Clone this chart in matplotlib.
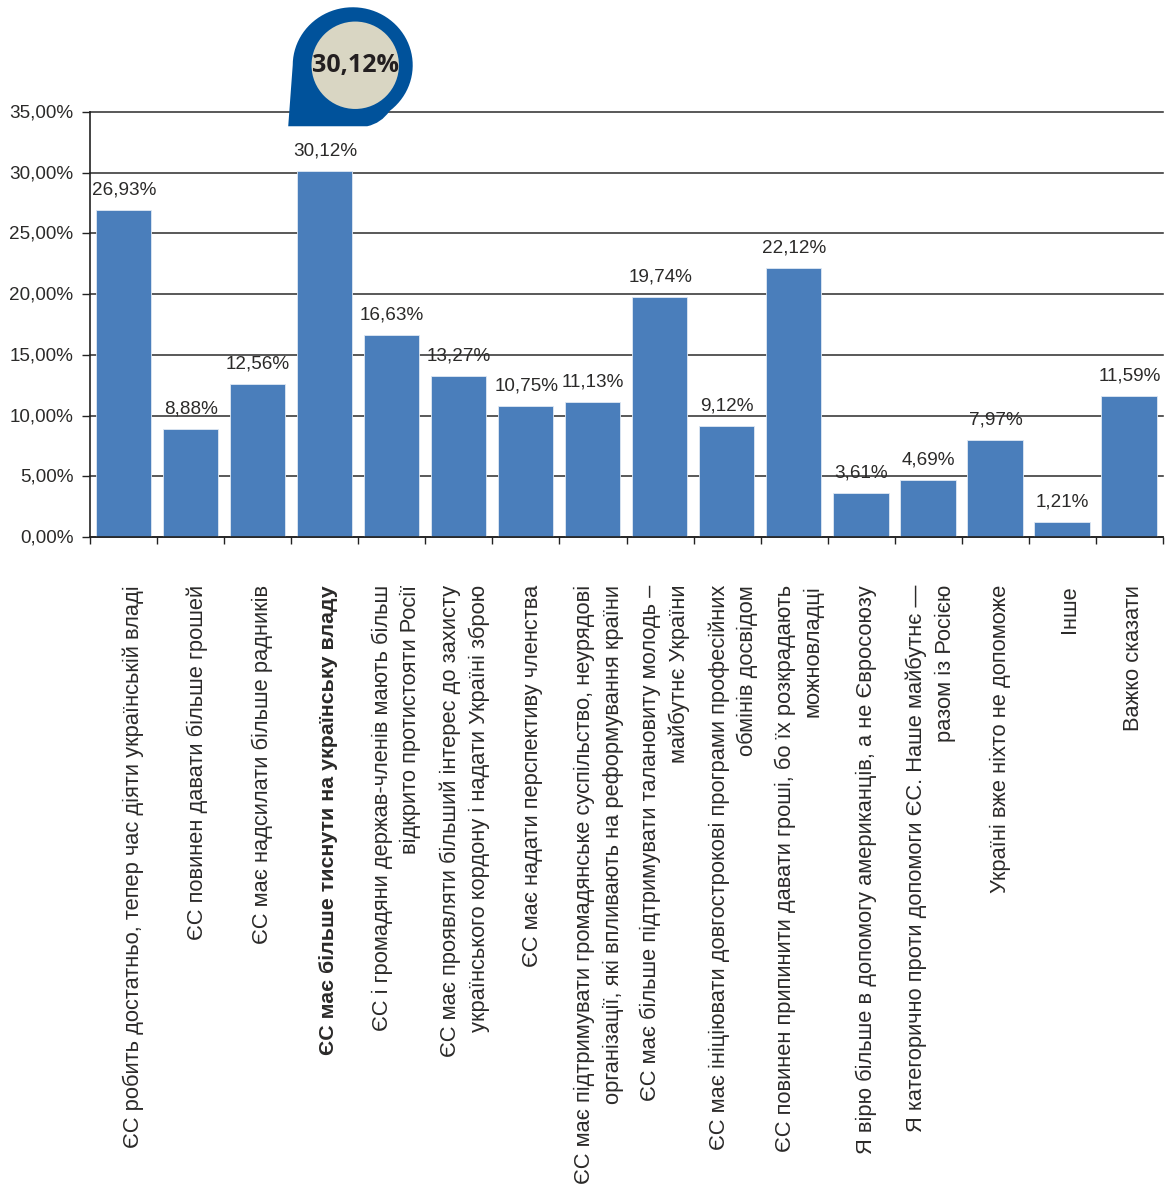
import numpy as np
import matplotlib
matplotlib.use("Agg")
import matplotlib.pyplot as plt
from matplotlib.path import Path
from matplotlib.patches import PathPatch, Circle
from matplotlib.transforms import Affine2D, ScaledTranslation

plt.rcParams['font.family'] = ['Liberation Sans', 'DejaVu Sans']

W, H = 1166, 1189

categories = [
    "ЄС робить достатньо, тепер час діяти українській владі",
    "ЄС повинен давати більше грошей",
    "ЄС має надсилати більше радників",
    "ЄС має більше тиснути на українську владу",
    "ЄС і громадяни держав-членів мають більш\nвідкрито протистояти Росії",
    "ЄС має проявляти більший інтерес до захисту\nукраїнського кордону і надати Україні зброю",
    "ЄС має надати перспективу членства",
    "ЄС має підтримувати громадянське суспільство, неурядові\nорганізації, які впливають на реформування країни",
    "ЄС має більше підтримувати талановиту молодь –\nмайбутнє України",
    "ЄС має ініціювати довгострокові програми професійних\nобмінів досвідом",
    "ЄС повинен припинити давати гроші, бо їх розкрадають\nможновладці",
    "Я вірю більше в допомогу американців, а не Євросоюзу",
    "Я категорично проти допомоги ЄС. Наше майбутнє —\nразом із Росією",
    "Україні вже ніхто не допоможе",
    "Інше",
    "Важко сказати",
]
values = [26.93, 8.88, 12.56, 30.12, 16.63, 13.27, 10.75, 11.13,
          19.74, 9.12, 22.12, 3.61, 4.69, 7.97, 1.21, 11.59]
y_ticks = [0, 5, 10, 15, 20, 25, 30, 35]
highlight = 3

fmt = lambda v: f"{v:.2f}%".replace(".", ",")

fig = plt.figure(figsize=(W / 100, H / 100), dpi=100)
left, right, top, bottom = 90, 1163, 112, 537
ax = fig.add_axes([left / W, 1 - bottom / H, (right - left) / W, (bottom - top) / H])
ax.set_xlim(-0.5, len(values) - 0.5)
ax.set_ylim(0, 35)

TEXT = "#2b2a29"
LINE = "#333333"
BAR = "#4a7ebb"

x = np.arange(len(values))
ax.set_axisbelow(True)
ax.yaxis.grid(True, color=LINE, lw=1.15, clip_on=False)
ax.bar(x - 0.005, values, width=0.825, color=BAR, edgecolor="#dfe8f3", lw=0.6, zorder=3)

ax.set_yticks(y_ticks)
ax.set_yticklabels([fmt(t) for t in y_ticks], fontsize=13.6, color=TEXT)
ax.set_xticks(np.arange(len(values) + 1) - 0.5)
ax.set_xticklabels([])
ax.tick_params(axis="y", length=5.5, width=1, color="#222222", pad=6.5)
ax.tick_params(axis="x", length=5, width=1, color="#222222")
# Nudge the percentage ticks up by one pixel
lift = ScaledTranslation(0, 1 / 100, fig.dpi_scale_trans)
for tick_label in ax.get_yticklabels():
    tick_label.set_transform(tick_label.get_transform() + lift)
for side in ("top", "right"):
    ax.spines[side].set_visible(False)
for side in ("left", "bottom"):
    ax.spines[side].set_color("#222222")
    ax.spines[side].set_linewidth(1.2)
    ax.spines[side].set_zorder(4)

# Value captions above each bar
for xi, v in zip(x, values):
    ax.annotate(fmt(v), (xi, v), xytext=(0.2, 14.5), textcoords="offset points",
                ha="center", va="center", fontsize=13.6, color=TEXT,
                annotation_clip=False, zorder=5)

# Rotated category captions, in pixels relative to the category centre
caption_shift = [9.5, 6.5, 4.5, 4, 4.5, 6, 7, 6, 5, 6, 5, 5, 2.5, 5, 7, 4.5]
for xi, label, dx in zip(x, categories, caption_shift):
    bold = xi == highlight
    ax.annotate(label, (xi, 0), xytext=(dx, -48), textcoords="offset pixels",
                rotation=90, ha="center", va="top", ma="right",
                linespacing=1.45, fontsize=15.4 if bold else 15.75, color=TEXT,
                fontweight="bold" if bold else "normal",
                annotation_clip=False)

# Callout badge anchored to the highlighted bar's top
ax_px = ax.transData.transform((highlight, values[highlight]))
to_badge = Affine2D().translate(ax_px[0], ax_px[1])
cx, cy = 30.5, 106
theta = np.radians(np.linspace(180, -52, 60))
ex, ey = cx - 2.5 + 60 * np.cos(theta), cy + 58 * np.sin(theta)
verts = list(zip(ex, ey))
codes = [Path.MOVETO] + [Path.LINETO] * (len(verts) - 1)
verts += [(cx + 26, cy - 58), (cx + 12, cy - 61), (cx - 67, cy - 61), (ex[0], ey[0]), (ex[0], ey[0])]
codes += [Path.CURVE3, Path.CURVE3, Path.LINETO, Path.LINETO, Path.CLOSEPOLY]
ax.add_patch(PathPatch(Path(verts, codes), transform=to_badge, facecolor="#00529b",
                       edgecolor="none", clip_on=False, zorder=6))
ax.add_patch(Circle((cx, cy), 43.7, transform=to_badge, facecolor="#d9d6c3",
                    edgecolor="none", clip_on=False, zorder=7))
ax.text(cx, cy, fmt(values[highlight]), transform=to_badge, ha="center", va="center",
        fontsize=18, fontweight="bold", color="#231f20", family="Open Sans",
        clip_on=False, zorder=8)

fig.savefig("out.png", dpi=100, facecolor="white")
